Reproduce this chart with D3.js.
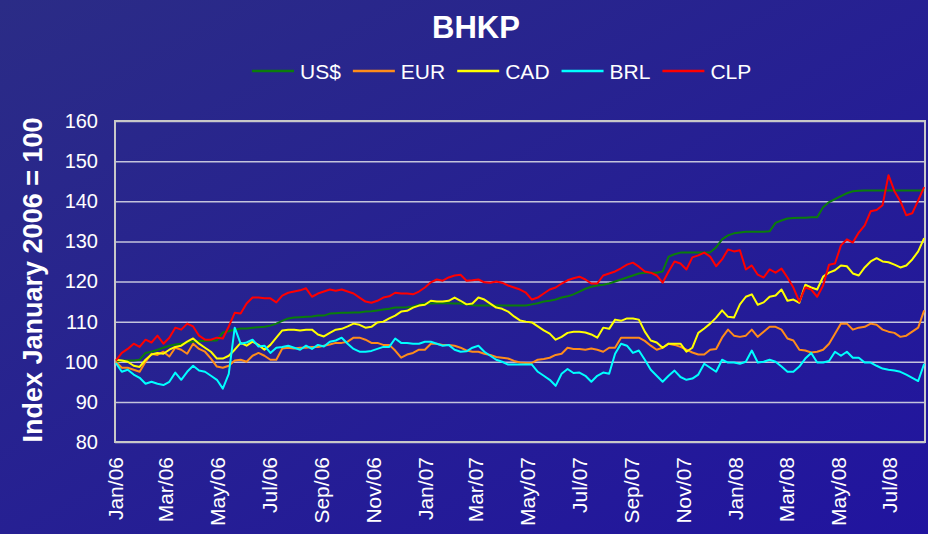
<!DOCTYPE html>
<html>
<head>
<meta charset="utf-8">
<script src="https://cdnjs.cloudflare.com/ajax/libs/d3/7.8.5/d3.min.js"></script>
<style>
    html, body { margin: 0; padding: 0; }
    body { width: 928px; height: 534px; overflow: hidden; }
    #chart-area { width: 928px; height: 534px; }
    text { font-family: "Liberation Sans", Arial, sans-serif; fill: #ffffff; }
</style>
</head>
<body>
<div id="chart-area"></div>
<script>

// weekly observations, first week starting Mon 2 Jan 2006
const firstWeek = new Date(2006, 0, 2);

const seriesNames = ["US$", "EUR", "CAD", "BRL", "CLP"];
const seriesColors = ["#0b7d0b", "#ff8c1a", "#ffff00", "#00ffff", "#ff0000"];

const tickLabels = ["Jan/06", "Mar/06", "May/06", "Jul/06", "Sep/06", "Nov/06",
    "Jan/07", "Mar/07", "May/07", "Jul/07", "Sep/07", "Nov/07",
    "Jan/08", "Mar/08", "May/08", "Jul/08"];

const yTicks = [80, 90, 100, 110, 120, 130, 140, 150, 160];

const usd = [
    100, 100.3, 100.3, 100.3, 100.5, 102.2, 102.5, 103, 103.5, 104,
    104.3, 104.5, 104.8, 105, 105.2, 105.2, 105.3, 105.3, 107.3, 107.6,
    108, 108.3, 108.3, 108.5, 108.6, 108.7, 109, 109.5, 110.2, 110.8,
    111, 111.1, 111.2, 111.3, 111.5, 111.5, 112, 112.1, 112.2, 112.2,
    112.3, 112.3, 112.5, 112.6, 112.8, 113, 113.2, 113.5, 113.5, 113.6,
    113.8, 114.2, 114.5, 114.5, 114.6, 114.6, 114.6, 114.5, 114.5, 114.3,
    114.1, 114, 114, 114, 114, 114, 114, 114, 114, 114,
    114.3, 114.6, 115, 115.2, 115.5, 116, 116.3, 116.8, 117.5, 118.2,
    118.7, 119, 119.2, 119.5, 120, 120.5, 121, 121.5, 122, 122.2,
    122.2, 122.2, 122.5, 126.2, 126.8, 127.2, 127.2, 127.2, 127.2, 127.2,
    127.3, 128.5, 130.5, 131.5, 132, 132.2, 132.4, 132.4, 132.4, 132.4,
    132.5, 134.6, 135.2, 135.7, 135.8, 135.9, 135.9, 136, 136, 138.5,
    139.8, 140.5, 141.3, 142, 142.5, 142.6, 142.7, 142.7, 142.7, 142.7,
    142.7, 142.7, 142.7, 142.7, 142.7, 142.7, 142.7
];

const eur = [
    100, 98.5, 98.5, 98, 97.5, 100, 102, 101.7, 102.5, 101.3,
    103.5, 103, 102, 104.5, 103.2, 102.5, 100.8, 98.8, 98.5, 99,
    100.3, 100.5, 100, 101.5, 102.2, 101.5, 100.5, 100.5, 103.3, 103.5,
    103.3, 103.5, 103.5, 103.7, 103.7, 104, 104.3, 104.7, 104.7, 105,
    106, 106, 105.5, 104.7, 104.7, 104.2, 104.2, 102.8, 101, 101.8,
    102.2, 103, 103, 104.5, 104.5, 104.2, 104.2, 104, 103.5, 102.8,
    102.5, 102.5, 102, 101.7, 101.2, 101, 100.8, 100.2, 99.8, 99.7,
    99.7, 100.5, 100.7, 101, 101.7, 102, 103.5, 103.2, 103.2, 103,
    103.3, 103, 102.5, 103.5, 103.5, 106, 106, 106, 106, 105.2,
    104, 103, 103.5, 104.5, 104.2, 103.7, 103, 102.3, 101.8, 101.8,
    103, 103.2, 106, 108, 106.5, 106.2, 106.5, 108, 106.2, 107.5,
    108.7, 108.7, 108, 105.8, 105.3, 103, 102.8, 102.3, 102.5, 103,
    104.5, 107, 109.5, 109.5, 108, 108.5, 108.7, 109.5, 109.2, 108,
    107.5, 107.2, 106.2, 106.5, 107.5, 108.5, 112.8
];

const cad = [
    100.5, 100.3, 100, 99, 98.7, 100.5, 101.8, 102.2, 102, 103,
    103.7, 104, 105, 105.8, 104.5, 103.5, 102.5, 100.8, 100.8, 101.5,
    103, 104.7, 104, 105, 104.2, 103, 104.2, 106, 107.8, 108,
    108, 107.8, 108, 108, 106.8, 106.3, 107.2, 108, 108.2, 108.8,
    109.5, 109.2, 108.5, 108.7, 109.8, 110, 110.8, 111.5, 112.5, 112.7,
    113.5, 114, 114.2, 115.2, 115, 115, 115.2, 116, 115.2, 114.3,
    114.5, 116, 115.5, 114.5, 113.5, 113.2, 112.5, 111.3, 110.3, 110,
    109.8, 108.8, 107.8, 107, 105.5, 106.2, 107.2, 107.5, 107.5, 107.3,
    106.8, 106, 108.5, 108.2, 110.5, 110.2, 110.8, 110.8, 110.5, 107.5,
    105.3, 104.8, 103.5, 104.5, 104.5, 104.5, 102.5, 103.5, 107.2, 108.3,
    109.5, 111, 112.8, 111.2, 111, 114.3, 116.2, 116.8, 114.2, 114.8,
    116.2, 116.5, 118, 115.2, 115.5, 114.7, 119.2, 118.5, 118, 121.2,
    122.2, 122.8, 124, 123.8, 122, 121.5, 123.5, 125, 125.8, 125,
    124.8, 124.2, 123.5, 124, 125.5, 127.5, 130.8
];

const brl = [
    99.7, 97.5, 98, 96.8, 96, 94.5, 95, 94.5, 94.2, 95,
    97.3, 95.5, 97.5, 99, 97.8, 97.5, 96.5, 95.5, 93.3, 97,
    108.5, 104.5, 104.8, 105.5, 103.8, 104, 102.2, 103.5, 103.7, 104,
    103.5, 103, 104, 103.2, 104.2, 103.8, 105, 105.3, 106, 104.5,
    103.2, 102.5, 102.5, 102.7, 103.2, 103.7, 103.7, 105.8, 104.7, 104.7,
    104.5, 104.5, 105, 105, 104.5, 104, 104.2, 103, 102.5, 102.6,
    103.5, 104, 102.5, 101.5, 100.5, 100, 99.3, 99.3, 99.3, 99.3,
    99.3, 97.5, 96.5, 95.5, 94, 97, 98.2, 97.2, 97.3, 96.5,
    95, 96.5, 97.3, 97, 102, 104.5, 104, 102.2, 102.8, 100.5,
    98, 96.5, 95, 96.5, 97.8, 96.2, 95.5, 95.8, 96.8, 99.5,
    98.5, 97.5, 100.5, 99.8, 99.8, 99.5, 100, 102.8, 99.8, 100,
    100.5, 100, 98.8, 97.5, 97.5, 98.8, 100.8, 102.2, 99.8, 99.8,
    100.2, 102.5, 101.5, 102.5, 101, 101, 99.8, 99.8, 99, 98.3,
    98, 97.8, 97.5, 96.8, 96, 95.2, 99.5
];

const clp = [
    100.3, 102.2, 103.2, 104.5, 103.7, 105.5, 104.8, 106.5, 104.5, 106,
    108.5, 108, 109.5, 108.8, 106.5, 105.5, 105.5, 106, 105.8, 108.8,
    112.2, 112, 114.5, 116, 116, 115.8, 115.8, 114.8, 116.5, 117.2,
    117.5, 117.8, 118.3, 116.2, 117, 117.5, 118, 117.7, 118, 117.5,
    117, 116, 115, 114.7, 115.2, 116, 116.3, 117.2, 117, 117,
    116.8, 117.5, 118.5, 119.8, 120.5, 120.2, 121, 121.5, 121.7, 120.2,
    120.3, 120.5, 119.8, 119.7, 120, 119.7, 119, 118.5, 118, 117.2,
    115.5, 116, 117, 118, 118.5, 119.5, 120.3, 120.8, 121.2, 120.5,
    119.5, 119.5, 121.5, 122, 122.5, 123.3, 124.2, 124.7, 123.7, 122.5,
    122.2, 121.5, 119.7, 122.5, 125, 124.5, 123, 126, 126.5, 127.2,
    126.2, 123.8, 125.5, 128, 127.5, 127.8, 123, 124, 121.7, 121,
    123, 122.2, 123.2, 121, 118.5, 115, 118.5, 118, 116.2, 119,
    124.2, 124.5, 129, 130.5, 129.7, 132.2, 134, 137.5, 137.8, 139,
    146.5, 142.5, 140, 136.5, 137, 140.2, 143.5
];

const seriesValues = [usd, eur, cad, brl, clp];


class CurrencyChart {

    constructor(parentElement) {
        this.parentElement = parentElement;
        this.initVis();
    }

    initVis() {
        let vis = this;
        vis.width = 928;
        vis.height = 534;
        vis.plot = {left: 115, right: 925, top: 121, bottom: 442};

        vis.svg = d3.select("#" + vis.parentElement).append("svg")
            .attr("width", vis.width)
            .attr("height", vis.height);

        // background gradient
        let grad = vis.svg.append("defs").append("linearGradient")
            .attr("id", "bg")
            .attr("x1", 0).attr("y1", 0).attr("x2", 1).attr("y2", 1);
        grad.append("stop").attr("offset", "0%").attr("stop-color", "#2b2c86");
        grad.append("stop").attr("offset", "100%").attr("stop-color", "#21149f");

        vis.svg.append("rect")
            .attr("width", vis.width)
            .attr("height", vis.height)
            .attr("fill", "url(#bg)");

        // scales
        vis.x = d3.scaleTime()
            .domain([new Date(2006, 0, 1), new Date(2008, 7, 12)])
            .range([vis.plot.left, vis.plot.right]);

        vis.y = d3.scaleLinear()
            .domain([80, 160])
            .range([vis.plot.bottom, vis.plot.top]);

        vis.wrangleData();
    }

    wrangleData() {
        let vis = this;
        vis.displayData = seriesNames.map((name, i) => ({
            name: name,
            color: seriesColors[i],
            values: seriesValues[i].map((v, k) => ({date: d3.timeWeek.offset(firstWeek, k), value: v}))
        }));
        vis.updateVis();
    }

    updateVis() {
        let vis = this;
        let parseTick = d3.timeParse("%b/%y");

        // gridlines
        vis.svg.append("g")
            .attr("transform", "translate(" + vis.plot.left + ",0)")
            .call(d3.axisLeft(vis.y).tickValues(yTicks).tickSize(-(vis.plot.right - vis.plot.left)).tickFormat(""))
            .call(g => g.select(".domain").remove())
            .selectAll("line")
            .attr("stroke", "#c4c4dc")
            .attr("stroke-width", 1.5);

        // plot border
        vis.svg.append("rect")
            .attr("x", vis.plot.left)
            .attr("y", vis.plot.top)
            .attr("width", vis.plot.right - vis.plot.left)
            .attr("height", vis.plot.bottom - vis.plot.top)
            .attr("fill", "none")
            .attr("stroke", "#c8c8c8")
            .attr("stroke-width", 2);

        // y axis labels
        vis.svg.append("g")
            .attr("class", "y-axis")
            .attr("transform", "translate(" + vis.plot.left + ",0)")
            .call(d3.axisLeft(vis.y).tickValues(yTicks).tickSize(0).tickPadding(17))
            .call(g => g.select(".domain").remove())
            .selectAll("text")
            .attr("fill", "#ffffff")
            .style("font-size", "20px")
            .style("font-family", "'Liberation Sans', Arial, sans-serif");

        // x axis labels, rotated
        vis.svg.append("g")
            .attr("class", "x-axis")
            .attr("transform", "translate(0," + vis.plot.bottom + ")")
            .call(d3.axisBottom(vis.x)
                .tickValues(tickLabels.map(parseTick))
                .tickFormat(d3.timeFormat("%b/%y"))
                .tickSize(0))
            .call(g => g.select(".domain").remove())
            .selectAll("text")
            .attr("fill", "#ffffff")
            .attr("transform", "rotate(-90)")
            .attr("x", -15)
            .attr("y", 0)
            .attr("dy", "0.36em")
            .style("text-anchor", "end")
            .style("font-size", "21px")
            .style("font-family", "'Liberation Sans', Arial, sans-serif");

        // series lines
        let line = d3.line()
            .x(d => vis.x(d.date))
            .y(d => vis.y(d.value));

        vis.svg.append("g").selectAll("path")
            .data(vis.displayData)
            .enter()
            .append("path")
            .attr("fill", "none")
            .attr("stroke", d => d.color)
            .attr("stroke-width", 2)
            .attr("stroke-linejoin", "round")
            .attr("d", d => line(d.values));

        // title
        vis.svg.append("text")
            .attr("x", 476)
            .attr("y", 38)
            .attr("text-anchor", "middle")
            .style("font-size", "31px")
            .style("font-weight", "bold")
            .text("BHKP");

        // y axis title
        vis.svg.append("text")
            .attr("transform", "translate(42,280) rotate(-90)")
            .attr("text-anchor", "middle")
            .style("font-size", "27px")
            .style("font-weight", "bold")
            .text("Index January 2006 = 100");

        // legend
        let legend = vis.svg.append("g").attr("class", "legend");
        let lx = 252;
        vis.displayData.forEach(function (d) {
            legend.append("line")
                .attr("x1", lx).attr("x2", lx + 42)
                .attr("y1", 71).attr("y2", 71)
                .attr("stroke", d.color)
                .attr("stroke-width", 2.5);
            let t = legend.append("text")
                .attr("x", lx + 48)
                .attr("y", 78.5)
                .style("font-size", "21px")
                .text(d.name);
            lx = lx + 48 + t.node().getComputedTextLength() + 12;
        });
    }
}

new CurrencyChart("chart-area");
</script>
</body>
</html>
